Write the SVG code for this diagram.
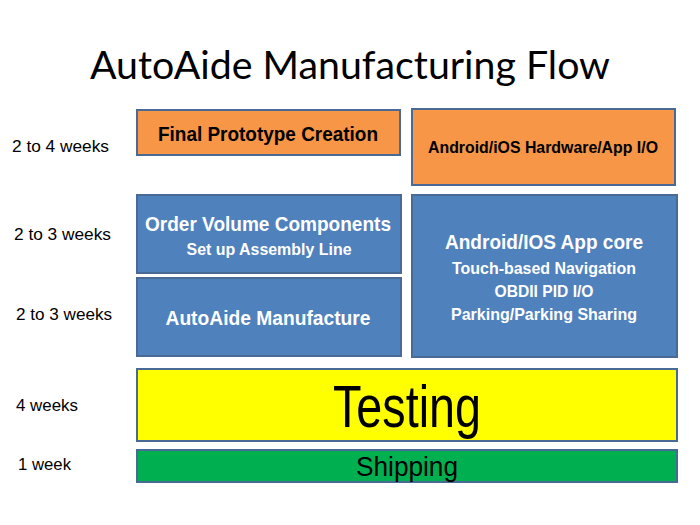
<svg xmlns="http://www.w3.org/2000/svg" width="700" height="525" viewBox="0 0 700 525">
<style>
.box{stroke:#4A6A96;stroke-width:2}
.blue{fill:#4F81BD}
.orange{fill:#F79646}
.lbl{font-family:"Liberation Sans",Arial,sans-serif;font-size:16px;fill:#000}
.bt{font-family:"Liberation Sans",Arial,sans-serif;font-weight:bold;text-anchor:middle}
.w{fill:#fff}
.k{fill:#000}
.title{font-family:Lato,"Open Sans",sans-serif;font-size:39px;text-anchor:middle;fill:#000}
</style>
<rect width="700" height="525" fill="#fff"/>
<text class="title" x="350" y="79" textLength="520" lengthAdjust="spacingAndGlyphs">AutoAide Manufacturing Flow</text>
<g id="labels">
<text class="lbl" x="12" y="152" textLength="97" lengthAdjust="spacingAndGlyphs">2 to 4 weeks</text>
<text class="lbl" x="14" y="240" textLength="97" lengthAdjust="spacingAndGlyphs">2 to 3 weeks</text>
<text class="lbl" x="16" y="320" textLength="96" lengthAdjust="spacingAndGlyphs">2 to 3 weeks</text>
<text class="lbl" x="16" y="411" textLength="62" lengthAdjust="spacingAndGlyphs">4 weeks</text>
<text class="lbl" x="18" y="470" textLength="53" lengthAdjust="spacingAndGlyphs">1 week</text>
</g>
<g id="final-prototype">
<rect class="box orange" x="137" y="110" width="263" height="45"/>
<text class="bt k" x="268" y="141" font-size="20" textLength="220" lengthAdjust="spacingAndGlyphs">Final Prototype Creation</text>
</g>
<g id="hardware-io">
<rect class="box orange" x="412" y="109" width="263" height="76"/>
<text class="bt k" x="543" y="153" font-size="17" textLength="230" lengthAdjust="spacingAndGlyphs">Android/iOS Hardware/App I/O</text>
</g>
<g id="order-volume">
<rect class="box blue" x="137" y="195" width="264" height="78"/>
<text class="bt w" x="268" y="231" font-size="21" textLength="246" lengthAdjust="spacingAndGlyphs">Order Volume Components</text>
<text class="bt w" x="269" y="255" font-size="17" textLength="165" lengthAdjust="spacingAndGlyphs">Set up Assembly Line</text>
</g>
<g id="manufacture">
<rect class="box blue" x="137" y="278" width="264" height="78"/>
<text class="bt w" x="268" y="325" font-size="21" textLength="205" lengthAdjust="spacingAndGlyphs">AutoAide Manufacture</text>
</g>
<g id="app-core">
<rect class="box blue" x="412" y="195" width="265" height="162"/>
<text class="bt w" x="544" y="249" font-size="21" textLength="198" lengthAdjust="spacingAndGlyphs">Android/IOS App core</text>
<text class="bt w" x="544" y="274" font-size="17" textLength="184" lengthAdjust="spacingAndGlyphs">Touch-based Navigation</text>
<text class="bt w" x="544" y="297" font-size="17" textLength="99" lengthAdjust="spacingAndGlyphs">OBDII PID I/O</text>
<text class="bt w" x="544" y="320" font-size="17" textLength="186" lengthAdjust="spacingAndGlyphs">Parking/Parking Sharing</text>
</g>
<g id="testing">
<rect class="box" fill="#FFFF00" x="137" y="369" width="540" height="72"/>
<text x="407" y="427" font-family="Liberation Sans,Arial,sans-serif" font-size="60" text-anchor="middle" textLength="148" lengthAdjust="spacingAndGlyphs">Testing</text>
</g>
<g id="shipping">
<rect class="box" fill="#00B050" x="137" y="450" width="540" height="32"/>
<text x="407" y="476" font-family="Liberation Sans,Arial,sans-serif" font-size="28" text-anchor="middle" textLength="102" lengthAdjust="spacingAndGlyphs">Shipping</text>
</g>
<g id="connectors"></g>
</svg>
